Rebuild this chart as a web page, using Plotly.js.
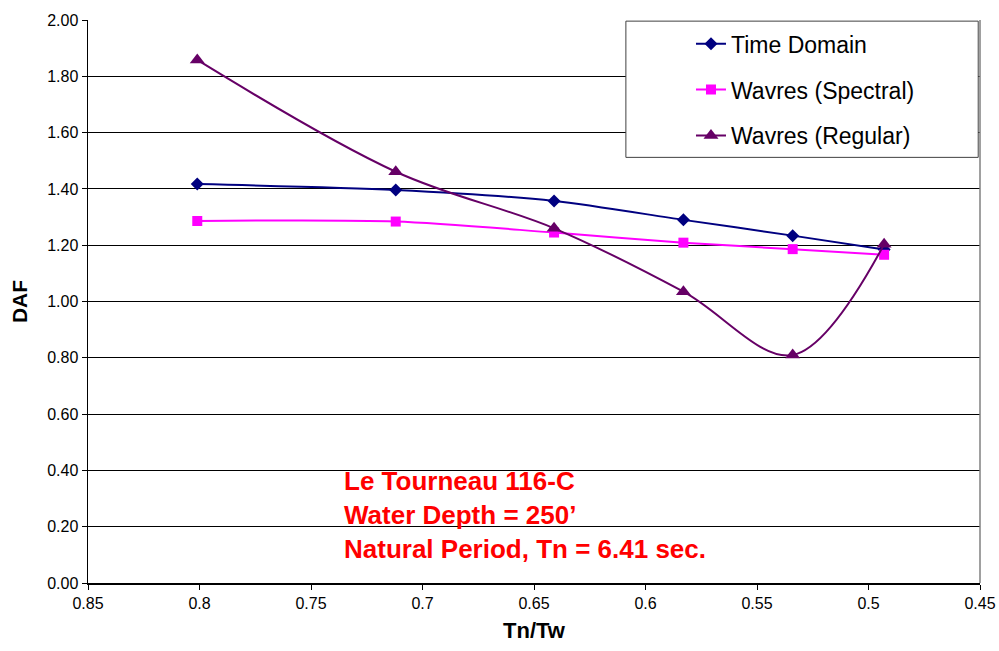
<!DOCTYPE html>
<html>
<head>
<meta charset="utf-8">
<script src="https://cdn.plot.ly/plotly-3.0.1.min.js"></script>
<style>
  html, body { margin: 0; padding: 0; background: #fff; }
  #chart { width: 999px; height: 651px; }
</style>
</head>
<body>
<div id="chart"></div>
<script>
// Tn/Tw ratios (Tn = 6.41 s, Tw = 8 ... 13 s)
const ratio = [0.801, 0.712, 0.641, 0.583, 0.534, 0.493];

// Dynamic amplification factor per method
const timeDomain = [1.417, 1.396, 1.357, 1.290, 1.234, 1.185];
const wavresSpectral = [1.286, 1.284, 1.245, 1.209, 1.186, 1.166];
const wavresRegular = [1.858, 1.461, 1.260, 1.035, 0.810, 1.203];

const seriesNames = ['Time Domain', 'Wavres (Spectral)', 'Wavres (Regular)'];
const noteLines = ['Le Tourneau 116-C', 'Water Depth = 250\u2019', 'Natural Period, Tn = 6.41 sec.'];

const FONT = 'Liberation Sans, Arial, Helvetica, sans-serif';

const traces = [
  {
    x: ratio, y: timeDomain, name: seriesNames[0], legendgroup: 'a',
    mode: 'lines+markers', line: { color: '#000080', width: 2, shape: 'spline', smoothing: 0.8 },
    marker: { symbol: 'diamond', size: 10, color: '#000080' }
  },
  {
    x: ratio, y: wavresSpectral, name: seriesNames[1], legendgroup: 'b',
    mode: 'lines+markers', line: { color: '#FF00FF', width: 2, shape: 'spline', smoothing: 0.8 },
    marker: { symbol: 'square', size: 10, color: '#FF00FF' }
  },
  {
    x: ratio, y: wavresRegular, name: seriesNames[2], legendgroup: 'c',
    mode: 'lines+markers', line: { color: '#660066', width: 2, shape: 'spline', smoothing: 1 },
    marker: { symbol: 'triangle-up', size: 13, color: '#660066' }
  }
];

const layout = {
  width: 999, height: 651,
  margin: { l: 88, r: 19, t: 20, b: 68 },
  paper_bgcolor: '#fff', plot_bgcolor: '#fff',
  font: { family: FONT, color: '#000' },
  showlegend: true,
  legend: {
    x: 0.676, xanchor: 'left', y: 0.996, yanchor: 'top',
    bgcolor: 'rgba(0,0,0,0)', borderwidth: 0,
    font: { family: FONT, size: 23, color: '#000' },
    traceorder: 'grouped', tracegroupgap: 13
  },
  xaxis: {
    range: [0.85, 0.45], dtick: 0.05, tick0: 0.45,
    showgrid: false, zeroline: false,
    showline: true, linecolor: '#000', linewidth: 1.5,
    ticks: 'outside', ticklen: 5, tickcolor: '#000',
    tickfont: { family: FONT, size: 16, color: '#000' },
    title: { text: '<b>Tn/Tw</b>', font: { family: FONT, size: 22, color: '#000' }, standoff: 12 }
  },
  yaxis: {
    range: [0, 2], dtick: 0.2, tickformat: '.2f',
    showgrid: true, gridcolor: '#000', gridwidth: 1,
    zeroline: false,
    showline: true, linecolor: '#000', linewidth: 1.5,
    ticks: 'outside', ticklen: 5, tickcolor: '#000',
    tickfont: { family: FONT, size: 16, color: '#000' },
    title: { text: '<b>DAF</b>', font: { family: FONT, size: 21, color: '#000' }, standoff: 14 }
  },
  shapes: [
    // right edge of the plot area
    { type: 'line', xref: 'paper', yref: 'paper', x0: 1, x1: 1, y0: 0, y1: 1,
      line: { color: '#808080', width: 1.5 } },
    // legend frame
    { type: 'rect', xref: 'paper', yref: 'paper', x0: 0.603, x1: 0.998, y0: 0.756, y1: 0.998,
      fillcolor: '#fff', line: { color: '#404040', width: 1 }, layer: 'above' }
  ],
  annotations: [
    {
      xref: 'paper', yref: 'paper', x: 0.285, y: 0.212, xanchor: 'left', yanchor: 'top',
      align: 'left', showarrow: false,
      text: noteLines.map(s => '<b>' + s + '</b>').join('<br>'),
      font: { family: FONT, size: 26, color: '#FF0000' }
    }
  ]
};

Plotly.newPlot('chart', traces, layout, { staticPlot: true, displayModeBar: false });
</script>
</body>
</html>
